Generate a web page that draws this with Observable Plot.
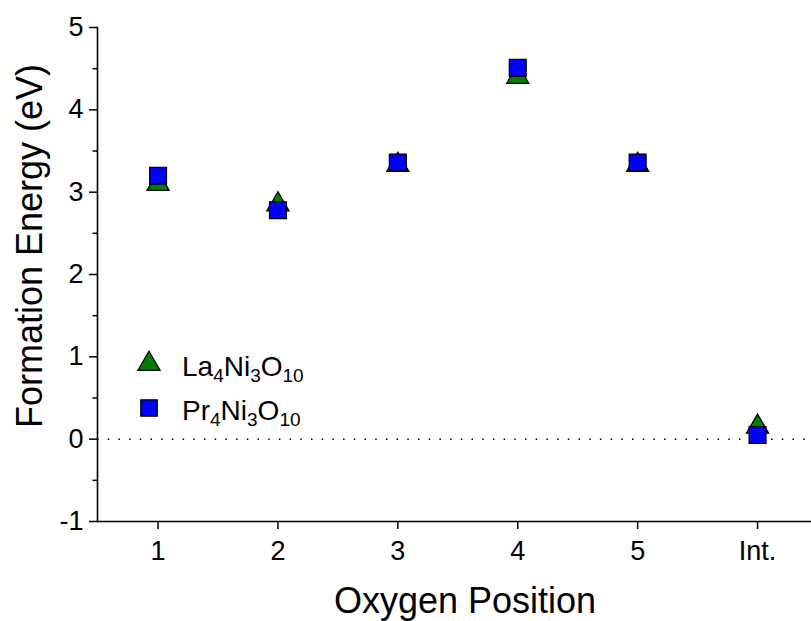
<!DOCTYPE html>
<html>
<head>
<meta charset="utf-8">
<script src="https://cdn.jsdelivr.net/npm/d3@7"></script>
<script src="https://cdn.jsdelivr.net/npm/@observablehq/plot@0.6"></script>
<style>
  html, body { margin: 0; padding: 0; background: #fff; }
  #chart svg { display: block; font-family: "Liberation Sans", Arial, sans-serif; }
</style>
</head>
<body>
<div id="chart"></div>
<script>
// ---- data ----
const positions = [1, 2, 3, 4, 5, 6];
const positionLabels = ["1", "2", "3", "4", "5", "Int."];
const La4Ni3O10 = [3.10, 2.85, 3.33, 4.40, 3.33, 0.15];
const Pr4Ni3O10 = [3.20, 2.78, 3.36, 4.51, 3.36, 0.05];
const yTicks = [-1, 0, 1, 2, 3, 4, 5];
const yMinorTicks = [-0.5, 0.5, 1.5, 2.5, 3.5, 4.5];

const data = positions.map((p, i) => ({pos: p, la: La4Ni3O10[i], pr: Pr4Ni3O10[i]}));

const font = '"Liberation Sans", Arial, sans-serif';

const plot = Plot.plot({
  width: 811,
  height: 621,
  marginLeft: 97,
  marginRight: 0,
  marginTop: 27,
  marginBottom: 100,
  style: {fontFamily: font, background: "#fff"},
  x: {type: "linear", domain: [0.495, 6.45]},
  y: {domain: [-1, 5]},
  marks: [
    Plot.ruleY([0], {stroke: "#000", strokeWidth: 1.5, strokeDasharray: "1.5,9.2", strokeOpacity: 1}),
    Plot.axisY({ticks: yTicks, tickFormat: (d) => (d < 0 ? "-" : "") + Math.abs(d), tickSize: 8, tickPadding: 6, fontSize: 27, label: null, stroke: "#000", strokeWidth: 1.5, color: "#000"}),
    Plot.axisY({ticks: yMinorTicks, tickSize: 4.5, text: null, label: null, stroke: "#000", strokeWidth: 1.5}),
    Plot.axisX({ticks: positions, tickFormat: (d) => positionLabels[positions.indexOf(d)], tickSize: 8, tickPadding: 11, fontSize: 27, label: null, stroke: "#000", strokeWidth: 1.5, color: "#000"}),
    Plot.frame({anchor: "left", stroke: "#000", strokeWidth: 1.6}),
    Plot.frame({anchor: "bottom", stroke: "#000", strokeWidth: 1.6}),
    Plot.dot(data, {x: "pos", y: "la", symbol: "triangle", r: 8.2, fill: "#008000", stroke: "#000", strokeWidth: 1.3}),
    Plot.dot(data, {x: "pos", y: "pr", symbol: "square", r: 9.5, fill: "#0000ff", stroke: "#000", strokeWidth: 1.3})
  ]
});

document.getElementById("chart").appendChild(plot);

const svg = d3.select(plot);

// axis titles
svg.append("text")
  .attr("transform", "translate(42,246) rotate(-90)")
  .attr("text-anchor", "middle")
  .attr("font-family", font)
  .attr("font-size", 36)
  .attr("fill", "#000")
  .text("Formation Energy (eV)");

svg.append("text")
  .attr("x", 465)
  .attr("y", 613)
  .attr("text-anchor", "middle")
  .attr("font-family", font)
  .attr("font-size", 36)
  .attr("fill", "#000")
  .text("Oxygen Position");

// legend
const legend = [
  {sym: d3.symbolTriangle, size: Math.PI * 8.2 * 8.2, fill: "#008000", parts: [["La", 0], ["4", 1], ["Ni", 0], ["3", 1], ["O", 0], ["10", 1]], cy: 364, base: 376},
  {sym: d3.symbolSquare, size: Math.PI * 9.5 * 9.5 * 0.95, fill: "#0000ff", parts: [["Pr", 0], ["4", 1], ["Ni", 0], ["3", 1], ["O", 0], ["10", 1]], cy: 408, base: 420}
];
const lg = svg.append("g").attr("text-anchor", "start");
legend.forEach(item => {
  lg.append("path")
    .attr("d", d3.symbol(item.sym, item.size)())
    .attr("transform", `translate(149,${item.cy})`)
    .attr("fill", item.fill)
    .attr("stroke", "#000")
    .attr("stroke-width", 1.3);
  const t = lg.append("text")
    .attr("x", 182)
    .attr("y", item.base)
    .attr("text-anchor", "start")
    .attr("font-family", font)
    .attr("font-size", 28)
    .attr("fill", "#000");
  item.parts.forEach(([s, sub], i) => {
    const ts = t.append("tspan").text(s);
    if (sub) ts.attr("font-size", 19).attr("dy", 6);
    else if (i > 0) ts.attr("dy", -6);
  });
});
</script>
</body>
</html>
